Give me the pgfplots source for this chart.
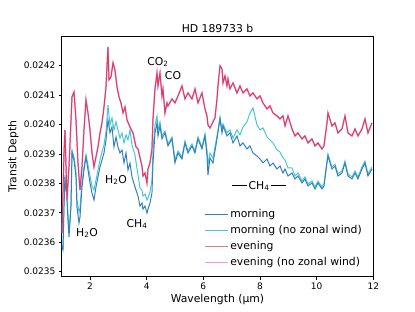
\documentclass[border=0pt]{standalone}
\usepackage{fontspec}
\setmainfont{DejaVu Sans}
\usepackage{pgfplots}
\pgfplotsset{compat=1.18}
\usepackage{pgfplotstable}

\definecolor{cmorn}{RGB}{52,128,190}
\definecolor{cmornnw}{RGB}{72,198,214}
\definecolor{ceve}{RGB}{220,62,92}
\definecolor{cevenw}{RGB}{236,150,232}

\pgfplotstableread{
x y
1.011 0.0236314
1.081 0.0239032
1.116 0.0239814
1.187 0.0237435
1.258 0.0238556
1.364 0.0240935
1.434 0.0241105
1.505 0.0240154
1.575 0.0238692
1.646 0.0237775
1.717 0.0238556
1.787 0.0239814
1.858 0.0240833
1.928 0.0240392
1.999 0.0239814
2.070 0.0239032
2.140 0.0238556
2.211 0.0238896
2.281 0.0239236
2.352 0.0239712
2.423 0.0240052
2.493 0.0240595
2.564 0.0241275
2.634 0.0242634
2.670 0.0241513
2.740 0.0241615
2.811 0.0242091
2.881 0.0241853
2.952 0.0241275
3.023 0.0240935
3.093 0.0240731
3.164 0.0240392
3.234 0.0240595
3.305 0.0240154
3.411 0.0239916
3.517 0.0239712
3.623 0.0239236
3.693 0.0239168
3.834 0.0238590
3.870 0.0238251
3.940 0.0238352
4.011 0.0238013
4.046 0.0238488
4.117 0.0238692
4.187 0.0239168
4.223 0.0240188
4.293 0.0241207
4.364 0.0241751
4.399 0.0241309
4.470 0.0241751
4.540 0.0240969
4.576 0.0241207
4.646 0.0240392
4.717 0.0240731
4.752 0.0240629
4.893 0.0240867
4.999 0.0240731
5.105 0.0240969
5.246 0.0241309
5.352 0.0240867
5.458 0.0241071
5.599 0.0240867
5.705 0.0241207
5.811 0.0240731
5.952 0.0241071
6.058 0.0240527
6.129 0.0240290
6.164 0.0239984
6.235 0.0239882
6.340 0.0240086
6.411 0.0240222
6.482 0.0240867
6.517 0.0241309
6.588 0.0241989
6.658 0.0241887
6.694 0.0241411
6.764 0.0241649
6.835 0.0241309
6.870 0.0241547
6.941 0.0241207
7.047 0.0241411
7.188 0.0241071
7.294 0.0241309
7.400 0.0241071
7.541 0.0241207
7.647 0.0240969
7.753 0.0241071
7.894 0.0240867
8.000 0.0240969
8.106 0.0240731
8.247 0.0240527
8.353 0.0240629
8.459 0.0240392
8.600 0.0240290
8.706 0.0240188
8.812 0.0240290
8.883 0.0239950
8.989 0.0240290
9.130 0.0239848
9.235 0.0239610
9.341 0.0239712
9.483 0.0239508
9.588 0.0239610
9.694 0.0239372
9.836 0.0239508
9.941 0.0239270
10.047 0.0239372
10.188 0.0239168
10.259 0.0239270
10.365 0.0240052
10.400 0.0240392
10.541 0.0239950
10.647 0.0240052
10.753 0.0239712
10.894 0.0239848
11.000 0.0240290
11.106 0.0239712
11.247 0.0239610
11.353 0.0239848
11.459 0.0239610
11.600 0.0239848
11.706 0.0240188
11.812 0.0239712
11.953 0.0240052
}\evening

\pgfplotstableread{
x y
1.011 0.0235838
1.046 0.0235736
1.081 0.0237197
1.116 0.0238217
1.187 0.0237435
1.222 0.0236755
1.258 0.0236178
1.328 0.0237197
1.364 0.0239032
1.434 0.0238794
1.505 0.0238217
1.540 0.0237197
1.611 0.0236653
1.646 0.0236857
1.717 0.0237877
1.787 0.0238454
1.858 0.0238896
1.928 0.0238454
1.999 0.0238013
2.070 0.0237673
2.140 0.0237435
2.211 0.0237877
2.281 0.0238217
2.352 0.0238556
2.423 0.0238794
2.493 0.0239032
2.564 0.0239474
2.634 0.0240154
2.705 0.0239712
2.775 0.0239916
2.846 0.0239236
2.917 0.0239576
2.987 0.0239236
3.058 0.0239032
3.128 0.0239134
3.199 0.0238692
3.270 0.0239032
3.340 0.0238454
3.411 0.0238692
3.481 0.0238217
3.587 0.0237877
3.693 0.0237571
3.764 0.0237231
3.834 0.0237333
3.870 0.0237129
3.940 0.0237231
4.011 0.0236993
4.046 0.0237129
4.117 0.0237333
4.187 0.0237673
4.223 0.0238692
4.293 0.0239712
4.364 0.0240052
4.399 0.0239610
4.470 0.0239950
4.540 0.0239508
4.646 0.0239712
4.752 0.0239270
4.893 0.0239508
4.999 0.0238692
5.105 0.0239032
5.246 0.0238828
5.352 0.0239372
5.458 0.0239032
5.599 0.0239270
5.705 0.0239032
5.811 0.0239508
5.952 0.0239168
6.058 0.0239610
6.129 0.0238930
6.164 0.0238284
6.235 0.0238862
6.340 0.0238692
6.482 0.0239508
6.588 0.0240188
6.658 0.0239712
6.694 0.0239950
6.835 0.0239610
6.941 0.0239712
7.047 0.0239372
7.188 0.0239610
7.294 0.0239270
7.400 0.0239372
7.541 0.0239168
7.647 0.0239270
7.753 0.0239032
7.894 0.0238930
8.000 0.0238828
8.106 0.0238692
8.247 0.0238828
8.353 0.0238590
8.459 0.0238692
8.600 0.0238488
8.706 0.0238590
8.812 0.0238352
8.883 0.0238488
8.989 0.0238251
9.130 0.0238352
9.235 0.0238149
9.341 0.0238251
9.483 0.0238013
9.588 0.0238149
9.694 0.0237911
9.836 0.0238013
9.941 0.0237809
10.047 0.0238013
10.188 0.0237809
10.259 0.0237911
10.365 0.0238692
10.400 0.0238930
10.541 0.0238488
10.647 0.0238590
10.753 0.0238251
10.894 0.0238352
11.000 0.0238692
11.106 0.0238251
11.247 0.0238149
11.353 0.0238352
11.459 0.0238149
11.600 0.0238488
11.706 0.0238692
11.812 0.0238251
11.953 0.0238488
}\morning

\pgfplotstableread{
x y
1.011 0.0235906
1.046 0.0235838
1.081 0.0237265
1.116 0.0238284
1.187 0.0237503
1.222 0.0236925
1.258 0.0236348
1.328 0.0237333
1.364 0.0239134
1.434 0.0238896
1.505 0.0238386
1.540 0.0237435
1.611 0.0237027
1.646 0.0237163
1.717 0.0238047
1.787 0.0238556
1.858 0.0238964
1.928 0.0238624
1.999 0.0238251
2.070 0.0237911
2.140 0.0237775
2.211 0.0238115
2.281 0.0238454
2.352 0.0238794
2.423 0.0239066
2.493 0.0239304
2.564 0.0239746
2.634 0.0240663
2.705 0.0239984
2.775 0.0240222
2.846 0.0239814
2.917 0.0240086
2.987 0.0239814
3.058 0.0239542
3.128 0.0239712
3.199 0.0239372
3.270 0.0239644
3.340 0.0239474
3.411 0.0239814
3.481 0.0239304
3.587 0.0238964
3.693 0.0238284
3.764 0.0237843
3.834 0.0237775
3.870 0.0237571
3.940 0.0237639
4.011 0.0237435
4.046 0.0237503
4.117 0.0237707
4.187 0.0238115
4.223 0.0239134
4.293 0.0239984
4.364 0.0240290
4.399 0.0239814
4.470 0.0240086
4.540 0.0239610
4.646 0.0239780
4.752 0.0239338
4.893 0.0239576
4.999 0.0238794
5.105 0.0239100
5.246 0.0238896
5.352 0.0239440
5.458 0.0239100
5.599 0.0239338
5.705 0.0239100
5.811 0.0239576
5.952 0.0239236
6.058 0.0239678
6.129 0.0239134
6.164 0.0238624
6.235 0.0239032
6.340 0.0238862
6.482 0.0239610
6.588 0.0240256
6.658 0.0239814
6.694 0.0240018
6.835 0.0239712
6.941 0.0239814
7.047 0.0239542
7.188 0.0239814
7.294 0.0239644
7.400 0.0239916
7.541 0.0240086
7.647 0.0240392
7.753 0.0240561
7.894 0.0239984
8.000 0.0239814
8.106 0.0239882
8.247 0.0239576
8.353 0.0239474
8.459 0.0239372
8.600 0.0239134
8.706 0.0239066
8.812 0.0238862
8.883 0.0238794
8.989 0.0238522
9.130 0.0238522
9.235 0.0238251
9.341 0.0238352
9.483 0.0238081
9.588 0.0238217
9.694 0.0237979
9.836 0.0238081
9.941 0.0237877
10.047 0.0238081
10.188 0.0237877
10.259 0.0237979
10.365 0.0238760
10.400 0.0238998
10.541 0.0238556
10.647 0.0238658
10.753 0.0238318
10.894 0.0238420
11.000 0.0238760
11.106 0.0238318
11.247 0.0238217
11.353 0.0238420
11.459 0.0238217
11.600 0.0238556
11.706 0.0238760
11.812 0.0238318
11.953 0.0238556
}\morningnw

\begin{document}
\begin{tikzpicture}
\useasboundingbox (-68.5pt,-38.1pt) rectangle (392.3pt,307.25pt);
\begin{axis}[
  at={(0pt,0pt)}, anchor=south west,
  scale only axis, width=346pt, height=266.5pt,
  xmin=1, xmax=12,
  ymin=0.023483, ymax=0.024298,
  xtick={2,4,6,8,10,12},
  ytick={0.0235,0.0236,0.0237,0.0238,0.0239,0.0240,0.0241,0.0242},
  scaled y ticks=false,
  yticklabel style={/pgf/number format/.cd, fixed, fixed zerofill, precision=4},
  /pgf/number format/assume math mode=true,
  ticklabel style={font=\fontsize{10}{12}\selectfont},
  tick align=outside, tick pos=left,
  major tick length=3.5pt,
  every tick/.style={black, line width=0.8pt},
  axis line style={line width=0.8pt},
  title={HD 189733 b},
  title style={font=\fontsize{12}{14}\selectfont, yshift=-5.3pt},
  xlabel={Wavelength (μm)},
  ylabel={Transit Depth},
  label style={font=\fontsize{12}{14}\selectfont},
  xlabel style={yshift=2pt},
  ylabel style={yshift=-1pt},
  legend style={at={(rel axis cs:0.975,0.02)}, anchor=south east, draw=none, fill=none,
    font=\fontsize{12}{14}\selectfont, row sep=1.8pt, inner sep=2pt,
    nodes={text height=9pt, text depth=3pt, inner sep=2pt}},
  legend cell align=left,
  legend image code/.code={\draw[#1] (0pt,0pt) -- (26pt,0pt);},
]
\addplot[forget plot, color=cmornnw, line width=1.1pt] table[x=x,y=y] {\morningnw};
\addplot[forget plot, color=cmorn, line width=1.1pt] table[x=x,y=y] {\morning};
\addplot[forget plot, color=cevenw, line width=1.6pt] table[x=x,y=y] {\evening};
\addplot[forget plot, color=ceve, line width=1.1pt] table[x=x,y=y] {\evening};

\addlegendimage{color=cmorn, line width=1.2pt}
\addlegendentry{morning}
\addlegendimage{color=cmornnw, line width=1.2pt}
\addlegendentry{morning (no zonal wind)}
\addlegendimage{color=ceve!70!white, line width=1.2pt}
\addlegendentry{evening}
\addlegendimage{color=cevenw, line width=1.2pt}
\addlegendentry{evening (no zonal wind)}

\node[font=\fontsize{12}{14}\selectfont] at (axis cs:1.893,0.0236314) {H\textsubscript{2}O};
\node[font=\fontsize{12}{14}\selectfont] at (axis cs:2.917,0.023812) {H\textsubscript{2}O};
\node[font=\fontsize{12}{14}\selectfont] at (axis cs:3.658,0.023662) {CH\textsubscript{4}};
\node[font=\fontsize{12}{14}\selectfont] at (axis cs:4.399,0.0242125) {CO\textsubscript{2}};
\node[font=\fontsize{12}{14}\selectfont] at (axis cs:4.929,0.0241649) {CO};
\node[font=\fontsize{12}{14}\selectfont] at (axis cs:7.965,0.0237911) {\rule[3.8pt]{16.5pt}{0.7pt}\hspace{2pt}CH\textsubscript{4}\hspace{2pt}\rule[3.8pt]{16.5pt}{0.7pt}};
\end{axis}
\end{tikzpicture}
\end{document}
